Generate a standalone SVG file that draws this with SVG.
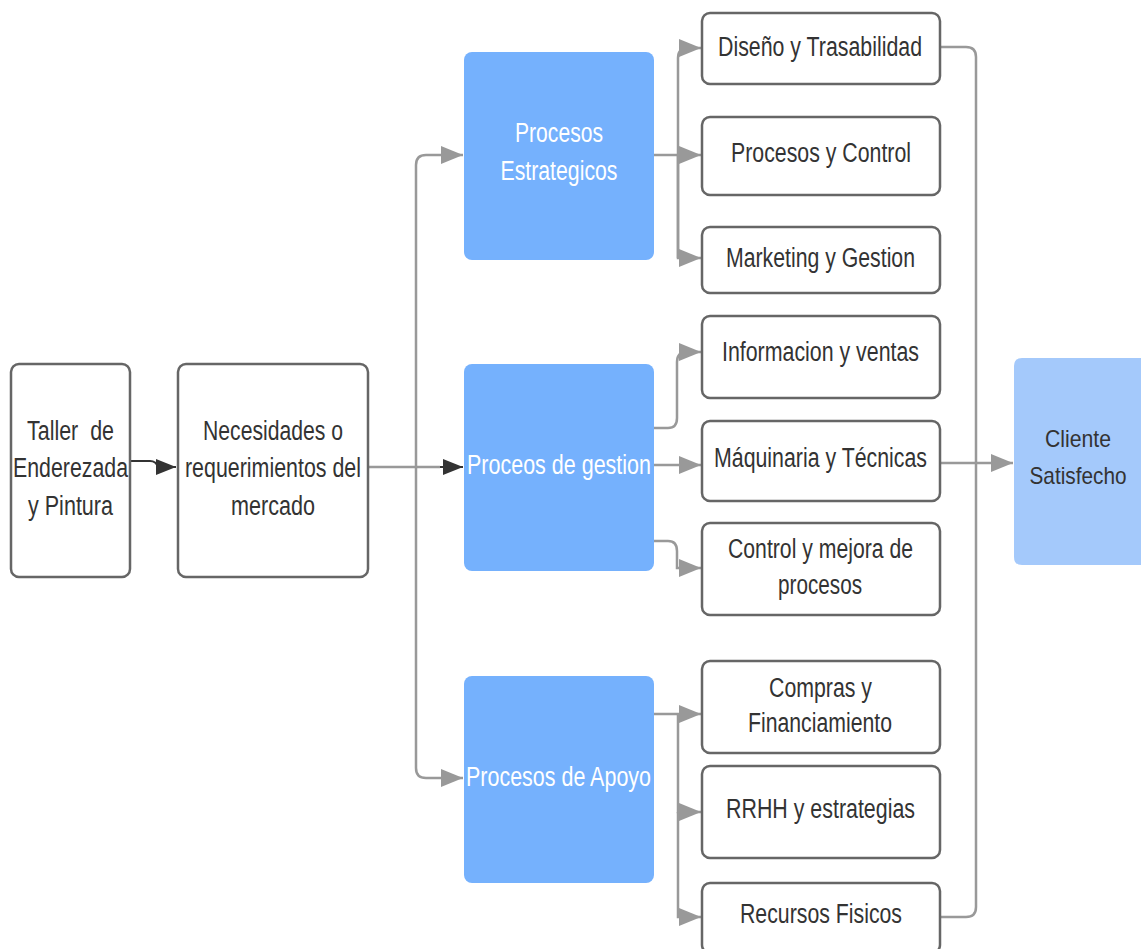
<svg xmlns="http://www.w3.org/2000/svg" width="1141" height="949" viewBox="0 0 1141 949">
<style>
.box{fill:#fff;stroke:#666;stroke-width:2.5}
.blue{fill:#75b1fd}
.light{fill:#a4c9fb}
.t{font-family:"Liberation Sans",Arial,sans-serif;font-size:27px;fill:#333;text-anchor:middle}
.s{font-size:24px}
.w{fill:#fff}
.c{fill:none;stroke:#999;stroke-width:2.5}
.k{fill:none;stroke:#333;stroke-width:2}
</style>
<defs>
<marker id="ag" markerUnits="userSpaceOnUse" markerWidth="24" markerHeight="20" refX="22" refY="9" orient="auto"><path d="M0,0 L22,9 L0,18 Z" fill="#999"/></marker>
<marker id="ak" markerUnits="userSpaceOnUse" markerWidth="24" markerHeight="20" refX="20" refY="8" orient="auto"><path d="M0,0 L20,8 L0,16 Z" fill="#333"/></marker>
</defs>
<g id="connectors">
<path class="k" d="M130,461 L150,461 Q156,461 158,467 L176,467" marker-end="url(#ak)"/>
<path class="c" d="M368,467 L440,467"/>
<path class="k" d="M440,467 L463,467" marker-end="url(#ak)"/>
<path class="c" d="M416,467 L416,165 Q416,155 426,155 L463,155" marker-end="url(#ag)"/>
<path class="c" d="M416,467 L416,768 Q416,778 426,778 L463,778" marker-end="url(#ag)"/>
<path class="c" d="M654,155 L678,155"/>
<path class="c" d="M678,258 L678,58 Q678,48 688,48 L701,48" marker-end="url(#ag)"/>
<path class="c" d="M678,155 L701,155" marker-end="url(#ag)"/>
<path class="c" d="M678,155 L678,258 L701,258" marker-end="url(#ag)"/>
<path class="c" d="M654,428 L668,428 Q677,428 677,418 L677,362 Q677,352 687,352 L701,352" marker-end="url(#ag)"/>
<path class="c" d="M654,465 L701,465" marker-end="url(#ag)"/>
<path class="c" d="M654,541 L668,541 Q677,541 677,551 L677,568 L701,568" marker-end="url(#ag)"/>
<path class="c" d="M654,714 L701,714" marker-end="url(#ag)"/>
<path class="c" d="M678,714 L678,812 L701,812" marker-end="url(#ag)"/>
<path class="c" d="M678,812 L678,917 L701,917" marker-end="url(#ag)"/>
<path class="c" d="M940,47 L966,47 Q976,47 976,57 L976,907 Q976,917 966,917 L940,917"/>
<path class="c" d="M940,463 L1013,463" marker-end="url(#ag)"/>
</g>
<g id="taller"><rect class="box" x="11" y="364" width="119" height="213" rx="8"/>
<text class="t" x="70.5" y="440" textLength="87" lengthAdjust="spacingAndGlyphs" xml:space="preserve">Taller  de</text>
<text class="t" x="70.5" y="477" textLength="115" lengthAdjust="spacingAndGlyphs">Enderezada</text>
<text class="t" x="70.5" y="515" textLength="85" lengthAdjust="spacingAndGlyphs">y Pintura</text></g>
<g id="necesidades"><rect class="box" x="178" y="364" width="190" height="213" rx="8"/>
<text class="t" x="273" y="440" textLength="140" lengthAdjust="spacingAndGlyphs">Necesidades o</text>
<text class="t" x="273" y="477" textLength="176" lengthAdjust="spacingAndGlyphs">requerimientos del</text>
<text class="t" x="273" y="515" textLength="84" lengthAdjust="spacingAndGlyphs">mercado</text></g>
<g id="estrategicos"><rect class="blue" x="464" y="52" width="190" height="208" rx="8"/>
<text class="t w" x="559" y="142" textLength="88" lengthAdjust="spacingAndGlyphs">Procesos</text>
<text class="t w" x="559" y="180" textLength="117" lengthAdjust="spacingAndGlyphs">Estrategicos</text></g>
<g id="gestion"><rect class="blue" x="464" y="364" width="190" height="207" rx="8"/>
<text class="t w" x="559" y="474" textLength="184" lengthAdjust="spacingAndGlyphs">Proceos de gestion</text></g>
<g id="apoyo"><rect class="blue" x="464" y="676" width="190" height="207" rx="8"/>
<text class="t w" x="558.5" y="786" textLength="185" lengthAdjust="spacingAndGlyphs">Procesos de Apoyo</text></g>
<g id="diseno"><rect class="box" x="702" y="13" width="238" height="71" rx="8"/>
<text class="t" x="820" y="56" textLength="204" lengthAdjust="spacingAndGlyphs">Diseño y Trasabilidad</text></g>
<g id="procesos-control"><rect class="box" x="702" y="117" width="238" height="78" rx="8"/>
<text class="t" x="821" y="162" textLength="180" lengthAdjust="spacingAndGlyphs">Procesos y Control</text></g>
<g id="marketing"><rect class="box" x="702" y="227" width="238" height="66" rx="8"/>
<text class="t" x="820.5" y="267" textLength="189" lengthAdjust="spacingAndGlyphs">Marketing y Gestion</text></g>
<g id="informacion"><rect class="box" x="702" y="316" width="238" height="82" rx="8"/>
<text class="t" x="820.5" y="361" textLength="197" lengthAdjust="spacingAndGlyphs">Informacion y ventas</text></g>
<g id="maquinaria"><rect class="box" x="702" y="421" width="238" height="80" rx="8"/>
<text class="t" x="820.5" y="467" textLength="213" lengthAdjust="spacingAndGlyphs">Máquinaria y Técnicas</text></g>
<g id="control-mejora"><rect class="box" x="702" y="523" width="238" height="92" rx="8"/>
<text class="t" x="820.5" y="558" textLength="185" lengthAdjust="spacingAndGlyphs">Control y mejora de</text>
<text class="t" x="820" y="594" textLength="84" lengthAdjust="spacingAndGlyphs">procesos</text></g>
<g id="compras"><rect class="box" x="702" y="661" width="238" height="92" rx="8"/>
<text class="t" x="820.5" y="697" textLength="103" lengthAdjust="spacingAndGlyphs">Compras y</text>
<text class="t" x="820" y="732" textLength="144" lengthAdjust="spacingAndGlyphs">Financiamiento</text></g>
<g id="rrhh"><rect class="box" x="702" y="766" width="238" height="92" rx="8"/>
<text class="t" x="820.5" y="818" textLength="189" lengthAdjust="spacingAndGlyphs">RRHH y estrategias</text></g>
<g id="recursos"><rect class="box" x="702" y="883" width="238" height="70" rx="8"/>
<text class="t" x="821" y="923" textLength="162" lengthAdjust="spacingAndGlyphs">Recursos Fisicos</text></g>
<g id="cliente"><path class="light" d="M1022,358 L1141,358 L1141,565 L1022,565 Q1014,565 1014,557 L1014,366 Q1014,358 1022,358 Z"/>
<text class="t s" x="1078" y="447" textLength="66" lengthAdjust="spacingAndGlyphs">Cliente</text>
<text class="t s" x="1078" y="484" textLength="97" lengthAdjust="spacingAndGlyphs">Satisfecho</text></g>
</svg>
